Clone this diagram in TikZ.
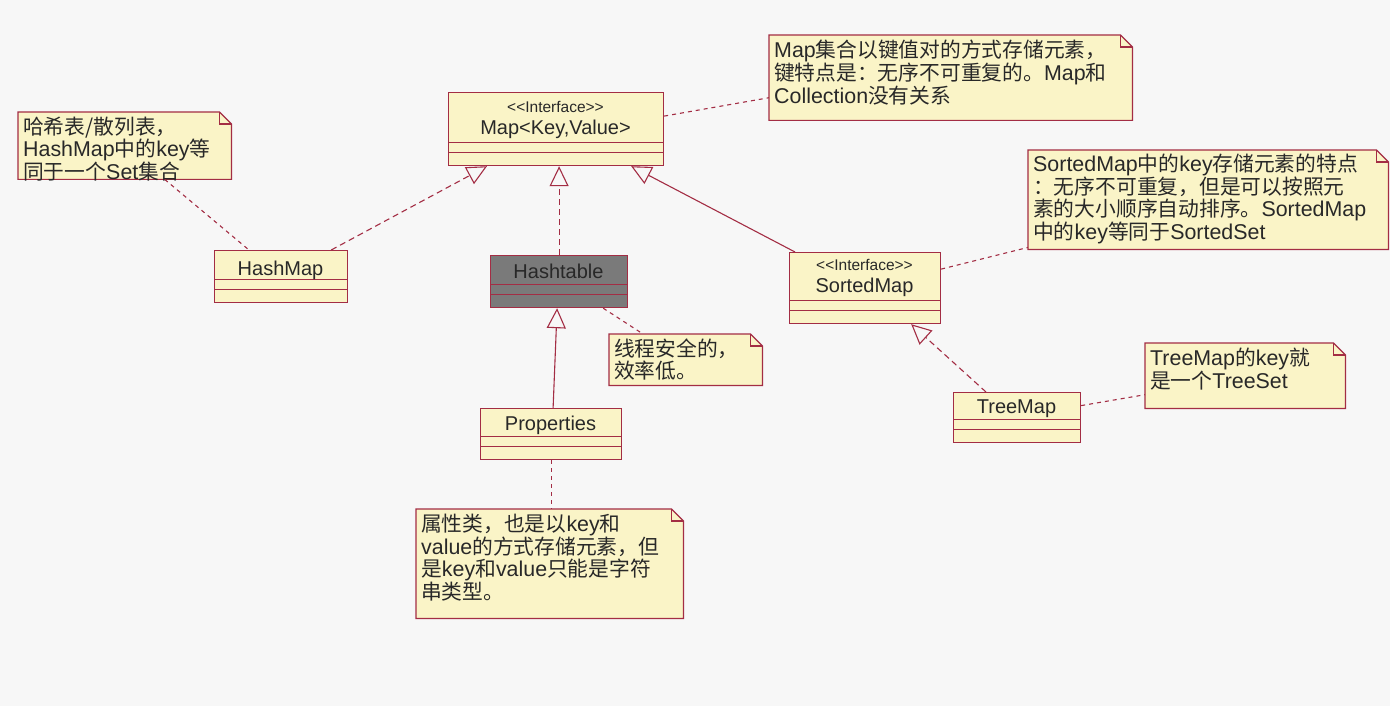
\documentclass[tikz,border=0pt]{standalone}
\usepackage{fontspec}
\setmainfont{Liberation Sans}
\newfontfamily\cjk{Noto Sans CJK SC}[Scale=0.97]
\usepackage{tikz}
\usetikzlibrary{arrows.meta, positioning}
\definecolor{umlred}{RGB}{163,45,68}
\definecolor{classfill}{RGB}{250,244,199}
\definecolor{bgcolor}{RGB}{247,247,247}
\definecolor{tablegray}{RGB}{122,122,122}
\definecolor{inkcolor}{RGB}{40,40,40}

\begin{document}
\begin{tikzpicture}[x=1pt, y=-1pt,
	umlclass/.style={rectangle, draw=umlred, fill=classfill, line width=1.2pt, inner sep=0pt, anchor=north west},
	umlline/.style={draw=umlred, line width=1.2pt},
	classname/.style={font=\fontsize{20}{22}\selectfont, text=inkcolor, align=center, inner sep=0pt},
	notebody/.style={rectangle, inner sep=0pt, anchor=north west},
	notebox/.style={draw=umlred, fill=classfill, line width=1.2pt},
	notetext/.style={font=\fontsize{21.4}{21.5}\selectfont, text=inkcolor, align=left, inner sep=0pt, anchor=north west},
	noteline/.style={draw=umlred, line width=1.1pt, dash pattern=on 4pt off 4pt},
	realize/.style={draw=umlred, line width=1.1pt, dash pattern=on 6pt off 4pt, -{Triangle[open, length=20pt, width=19pt, line width=1.1pt]}},
	extends/.style={draw=umlred, line width=1.1pt, -{Triangle[open, length=20pt, width=19pt, line width=1.1pt]}}]
	
	\useasboundingbox (0,0) rectangle (1390,706);
	\fill[bgcolor] (0,0) rectangle (1390,706);
	
	%notes
	\node[notebody, minimum width=213, minimum height=67] (hashnote) at (18,112) {};
	\node[notebody, minimum width=363, minimum height=85] (mapnote) at (769,35) {};
	\node[notebody, minimum width=360, minimum height=99] (sortednote) at (1028,150) {};
	\node[notebody, minimum width=153, minimum height=51] (tablenote) at (609,334) {};
	\node[notebody, minimum width=267, minimum height=109] (propnote) at (416,509) {};
	\node[notebody, minimum width=200, minimum height=65] (treenote) at (1145,343) {};
	\foreach \n in {hashnote,mapnote,sortednote,tablenote,propnote,treenote}{
		\draw[notebox] (\n.south west) -- (\n.north west) -- ([xshift=-12pt]\n.north east) -- ([yshift=-12pt]\n.north east) -- (\n.south east) -- cycle;
		\draw[notebox, fill=none] ([xshift=-12pt]\n.north east) -- ([xshift=-12pt, yshift=-12pt]\n.north east) -- ([yshift=-12pt]\n.north east);
	}
	\node[notetext] (hashtext) at ([xshift=5pt, yshift=-5pt]hashnote.north west) {{\cjk 哈希表/散列表，}\\HashMap{\cjk 中的}key{\cjk 等}\\{\cjk 同于一个}Set{\cjk 集合}};
	\node[notetext] (maptext) at ([xshift=5pt, yshift=-5pt]mapnote.north west) {Map{\cjk 集合以键值对的方式存储元素，}\\{\cjk 键特点是：无序不可重复的。}Map{\cjk 和}\\Collection{\cjk 没有关系}};
	\node[notetext] (sortedtext) at ([xshift=5pt, yshift=-4pt]sortednote.north west) {SortedMap{\cjk 中的}key{\cjk 存储元素的特点}\\{\cjk ：无序不可重复，但是可以按照元}\\{\cjk 素的大小顺序自动排序。}SortedMap\\{\cjk 中的}key{\cjk 等同于}SortedSet};
	\node[notetext] (tabletext) at ([xshift=5pt, yshift=-5pt]tablenote.north west) {{\cjk 线程安全的，}\\{\cjk 效率低。}};
	\node[notetext] (proptext) at ([xshift=5pt, yshift=-5pt]propnote.north west) {{\cjk 属性类，也是以}key{\cjk 和}\\value{\cjk 的方式存储元素，但}\\{\cjk 是}key{\cjk 和}value{\cjk 只能是字符}\\{\cjk 串类型。}};
	\node[notetext] (treetext) at ([xshift=5pt, yshift=-5pt]treenote.north west) {TreeMap{\cjk 的}key{\cjk 就}\\{\cjk 是一个}TreeSet};
	
	%classes
	\node[umlclass, minimum width=215, minimum height=73] (map) at (448,92) {};
	\node[umlclass, minimum width=133, minimum height=52] (hashmap) at (214,250) {};
	\node[umlclass, fill=tablegray, minimum width=137, minimum height=52] (hashtable) at (490,255) {};
	\node[umlclass, minimum width=151, minimum height=71] (sortedmap) at (789,252) {};
	\node[umlclass, minimum width=141, minimum height=51] (properties) at (480,408) {};
	\node[umlclass, minimum width=127, minimum height=50] (treemap) at (953,392) {};
	\foreach \c in {map,hashmap,hashtable,sortedmap,properties,treemap}{
		\draw[umlline] ([yshift=24pt]\c.south west) -- ([yshift=24pt]\c.south east);
		\draw[umlline] ([yshift=14pt]\c.south west) -- ([yshift=14pt]\c.south east);
	}
	\node[classname] (mapname) at (555.5,120) {{\fontsize{15.5}{17}\selectfont <\kern0pt<Interface>\kern0pt>}\\Map<Key,Value>};
	\node[classname] (hashmapname) at (280.5,270) {HashMap};
	\node[classname] (hashtablename) at (558.5,271) {Hashtable};
	\node[classname] (sortedmapname) at (864.5,278) {{\fontsize{15.5}{17}\selectfont <\kern0pt<Interface>\kern0pt>}\\SortedMap};
	\node[classname] (propertiesname) at (550.5,425) {Properties};
	\node[classname] (treemapname) at (1016.5,409) {TreeMap};
	
	%relations
	\draw[realize] ([xshift=-17pt]hashmap.north east) -- ([xshift=39pt]map.south west);
	\draw[realize] (hashtable.north) -- (hashtable.north |- map.south);
	\draw[extends] ([xshift=6pt]sortedmap.north west) -- ([xshift=-33pt]map.south east);
	\draw[extends] ([xshift=2pt]properties.north) -- ([xshift=-2pt]hashtable.south);
	\draw[realize] ([xshift=33pt]treemap.north west) -- ([xshift=-30pt]sortedmap.south east);
	
	%note links
	\draw[noteline] ([yshift=13pt]map.east) -- ([yshift=-20pt]mapnote.west);
	\draw[noteline] ([xshift=40pt]hashnote.south) -- ([xshift=35pt]hashmap.north west);
	\draw[noteline] ([yshift=19pt]sortedmap.east) -- ([yshift=2pt]sortednote.south west);
	\draw[noteline] ([xshift=-25pt]hashtable.south east) -- ([xshift=34pt]tablenote.north west);
	\draw[noteline] (properties.south) -- (properties.south |- propnote.north);
	\draw[noteline] ([yshift=12pt]treemap.east) -- ([yshift=-19pt]treenote.west);
	
\end{tikzpicture}
\end{document}
